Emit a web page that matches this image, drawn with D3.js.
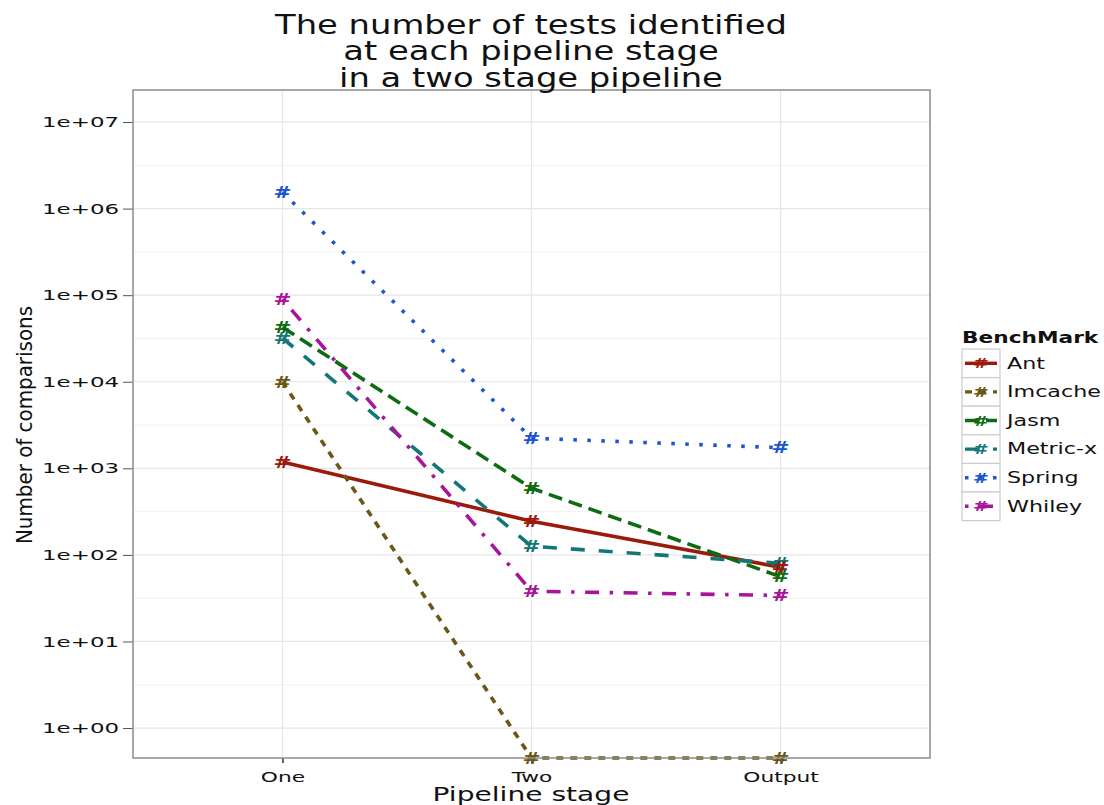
<!DOCTYPE html>
<html>
<head>
<meta charset="utf-8">
<script src="https://cdn.jsdelivr.net/npm/d3@7"></script>
<style>
  html, body { margin: 0; padding: 0; background: #fff; }
  text { font-family: "DejaVu Sans", sans-serif; }
</style>
</head>
<body>
<svg id="chart" width="1104" height="805"></svg>
<script>
// Pipeline stages along the x axis
const stages = ["One", "Two", "Output"];

// Benchmarks and the count of tests found at each stage
const benchmarks = ["Ant", "Imcache", "Jasm", "Metric-x", "Spring", "Whiley"];
const antValues     = [1180, 245, 72];
const imcacheValues = [10000, 0, 0];
const jasmValues    = [42700, 590, 56];
const metricxValues = [32000, 126, 80];
const springValues  = [1550000, 2230, 1730];
const whileyValues  = [90000, 38, 34];

const yTickValues = [1, 10, 100, 1000, 10000, 100000, 1000000, 10000000];
const yTickLabels = ["1e+00", "1e+01", "1e+02", "1e+03", "1e+04", "1e+05", "1e+06", "1e+07"];

const colors = ["#9b1a0c", "#6b5716", "#0f6b12", "#147777", "#1b55d2", "#a8159a"];
const dashes = [null, "7,7", "14,7", "14,14", "3.5,10.5", "3.5,10.5,14,10.5"];

const seriesValues = [antValues, imcacheValues, jasmValues, metricxValues, springValues, whileyValues];
const series = benchmarks.map((name, i) => ({
  name, color: colors[i], dash: dashes[i],
  values: stages.map((s, j) => ({ stage: s, value: seriesValues[i][j] }))
}));

const svg = d3.select("#chart");
const panel = { left: 133, right: 930, top: 90, bottom: 758 };

// widen a text horizontally about its own anchor x
function widen(sel, sx) {
  sel.each(function () {
    const t = d3.select(this);
    const ax = +t.attr("x") || 0;
    t.attr("transform", `translate(${ax},0) scale(${sx},1) translate(${-ax},0)`);
  });
}

const x = d3.scalePoint().domain(stages)
  .range([panel.left, panel.right]).padding(0.6);

const yMin = Math.pow(10, -0.346), yMax = Math.pow(10, 7.37);
const y = d3.scaleLog().domain([yMin, yMax]).range([panel.bottom, panel.top]);
// zero counts sit on the lower edge of the panel
const yPos = v => y(Math.max(v, yMin));

// minor grid at half-decade positions
const minorTicks = d3.range(-0.5, 7.5, 1).map(e => Math.pow(10, e)).filter(v => v > yMin && v < yMax);
svg.append("g").selectAll("line").data(minorTicks).join("line")
  .attr("x1", panel.left).attr("x2", panel.right)
  .attr("y1", d => y(d)).attr("y2", d => y(d))
  .attr("stroke", "#f2f2f2").attr("stroke-width", 1);

svg.append("g").selectAll("line").data(yTickValues).join("line")
  .attr("x1", panel.left).attr("x2", panel.right)
  .attr("y1", d => y(d)).attr("y2", d => y(d))
  .attr("stroke", "#e6e6e6").attr("stroke-width", 1.2);

svg.append("g").selectAll("line").data(stages).join("line")
  .attr("x1", d => x(d)).attr("x2", d => x(d))
  .attr("y1", panel.top).attr("y2", panel.bottom)
  .attr("stroke", "#e6e6e6").attr("stroke-width", 1.2);

// axes
const yAxis = d3.axisLeft(y).tickValues(yTickValues)
  .tickFormat((d, i) => yTickLabels[i]).tickSize(10).tickPadding(4);
const gy = svg.append("g").attr("transform", `translate(${panel.left},0)`).call(yAxis);
gy.select(".domain").remove();
gy.selectAll(".tick line").attr("stroke", "#555");
gy.selectAll(".tick text").attr("font-size", 14.5).attr("fill", "#111")
  .attr("font-family", "DejaVu Sans")
  .call(widen, 1.58);

const xAxis = d3.axisBottom(x).tickSize(5).tickPadding(6);
const gx = svg.append("g").attr("transform", `translate(0,${panel.bottom})`).call(xAxis);
gx.select(".domain").remove();
gx.selectAll(".tick line").attr("stroke", "#333").attr("stroke-width", 1.5);
gx.selectAll(".tick text").attr("font-size", 14.5).attr("fill", "#111")
  .attr("font-family", "DejaVu Sans").attr("dy", "0.9em")
  .call(widen, 1.5);

// series lines
const line = d3.line().x(d => x(d.stage)).y(d => yPos(d.value));
svg.append("g").selectAll("path").data(series).join("path")
  .attr("d", d => line(d.values))
  .attr("fill", "none")
  .attr("stroke", d => d.color)
  .attr("stroke-width", 3.6)
  .attr("stroke-dasharray", d => d.dash)
  .attr("stroke-linecap", "butt");

// point markers drawn as '#', Ant on top
const pts = series.slice().reverse().flatMap(s => s.values.map(v => ({ ...v, color: s.color })));
svg.append("g").selectAll("text").data(pts).join("text")
  .attr("x", d => x(d.stage)).attr("y", d => yPos(d.value))
  .attr("dy", "0.36em")
  .attr("text-anchor", "middle")
  .attr("font-size", 16).attr("font-weight", "bold")
  .attr("fill", d => d.color)
  .text("#")
  .call(widen, 1.35);

// panel border
svg.append("rect")
  .attr("x", panel.left).attr("y", panel.top)
  .attr("width", panel.right - panel.left).attr("height", panel.bottom - panel.top)
  .attr("fill", "none").attr("stroke", "#8c8c8c").attr("stroke-width", 1.5);

// title
const titleLines = ["The number of tests identified", "at each pipeline stage", "in a two stage pipeline"];
svg.append("g").selectAll("text").data(titleLines).join("text")
  .attr("x", 531).attr("y", (d, i) => 34 + i * 26.5)
  .attr("text-anchor", "middle").attr("font-size", 26).attr("fill", "#111")
  .text(d => d)
  .call(widen, 1.3);

// axis titles
svg.append("text")
  .attr("x", 531).attr("y", 801)
  .attr("text-anchor", "middle").attr("font-size", 19).attr("fill", "#111")
  .text("Pipeline stage")
  .call(widen, 1.48);

svg.append("text")
  .attr("transform", "translate(32,425) rotate(-90)")
  .attr("text-anchor", "middle")
  .attr("font-family", "DejaVu Sans Condensed, DejaVu Sans, sans-serif")
  .attr("font-size", 21).attr("fill", "#111")
  .attr("textLength", 238).attr("lengthAdjust", "spacingAndGlyphs")
  .text("Number of comparisons");

// legend
const legend = svg.append("g").attr("transform", "translate(962,0)");
legend.append("text").attr("x", 0).attr("y", 343)
  .attr("font-size", 15.5).attr("font-weight", "bold").attr("fill", "#111")
  .text("BenchMark")
  .call(widen, 1.4);

const keyH = 28.6, keyW = 38, keyTop = 349;
const rows = legend.selectAll("g.key").data(series).join("g")
  .attr("class", "key")
  .attr("transform", (d, i) => `translate(0,${keyTop + i * keyH})`);
rows.append("rect").attr("x", 0).attr("y", 0).attr("width", keyW).attr("height", keyH)
  .attr("fill", "#fff").attr("stroke", "#cccccc").attr("stroke-width", 1.2);
rows.append("line").attr("x1", 3).attr("x2", keyW - 3)
  .attr("y1", keyH / 2).attr("y2", keyH / 2)
  .attr("stroke", d => d.color).attr("stroke-width", 3.4)
  .attr("stroke-dasharray", d => d.dash);
rows.append("text").attr("x", keyW / 2).attr("y", keyH / 2).attr("dy", "0.36em")
  .attr("text-anchor", "middle").attr("font-size", 14).attr("font-weight", "bold")
  .attr("fill", d => d.color).text("#")
  .call(widen, 1.35);
rows.append("text").attr("x", keyW + 7).attr("y", keyH / 2).attr("dy", "0.36em")
  .attr("font-size", 15).attr("fill", "#111").text(d => d.name)
  .call(widen, 1.48);
</script>
</body>
</html>
